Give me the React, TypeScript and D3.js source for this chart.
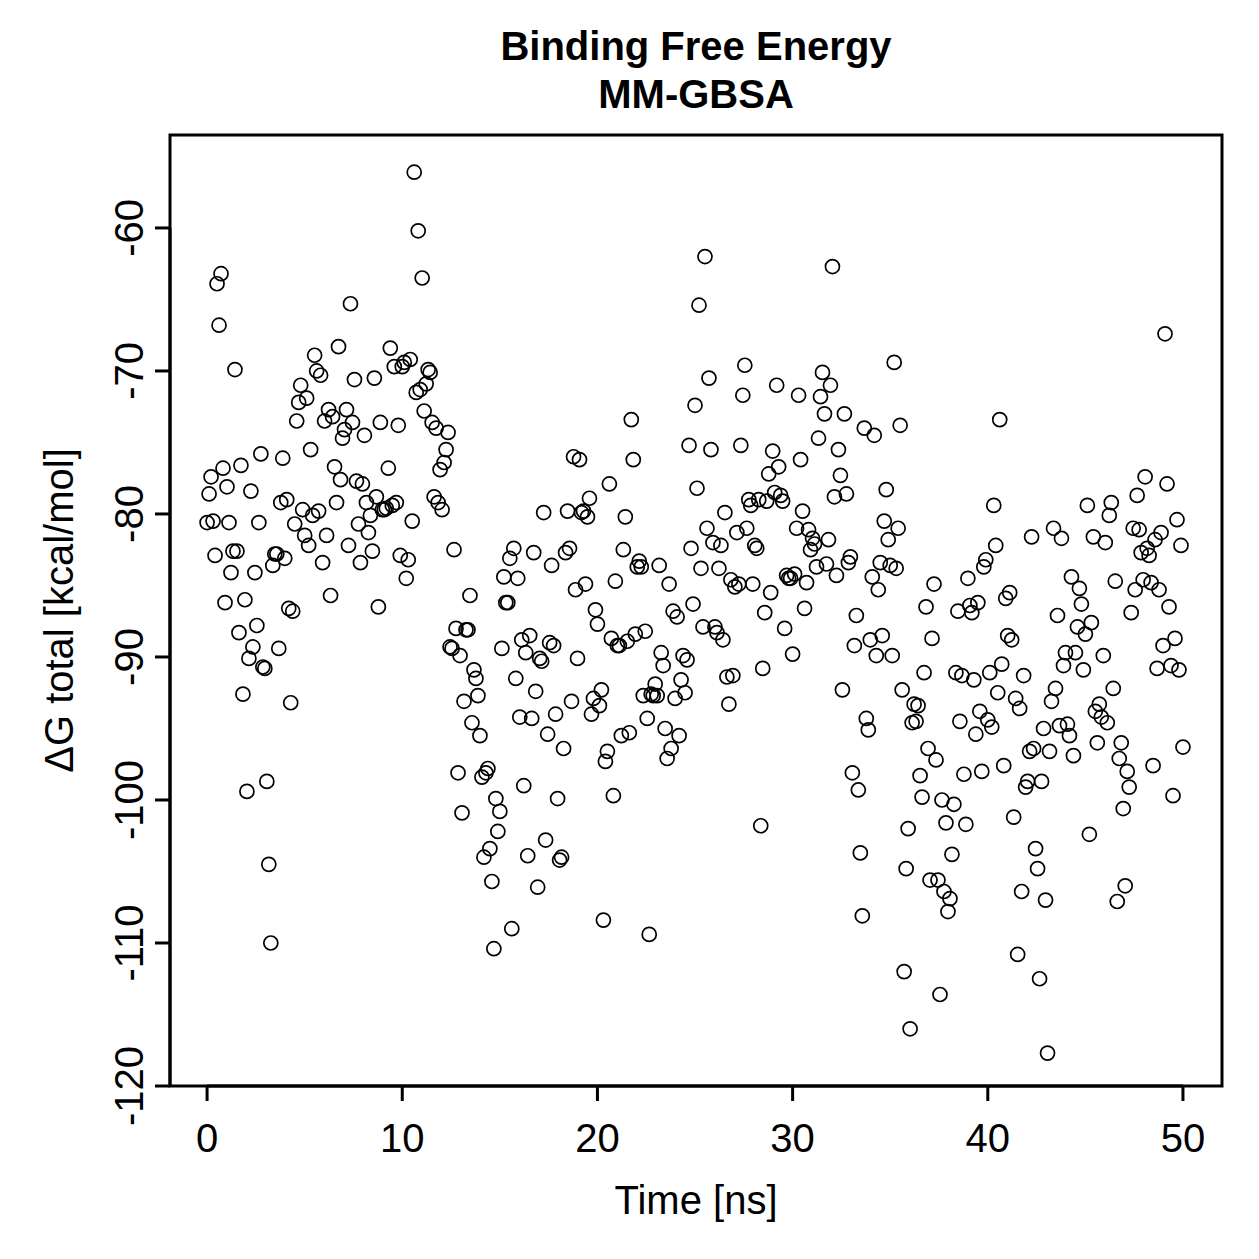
import React from 'react';
import { scaleLinear } from 'd3';

// MM-GBSA total binding free energy per snapshot (kcal/mol), in trajectory order
const dGTotal = [
  -80.6, -78.6, -77.4, -80.5, -82.9, -63.9, -66.8, -63.2, -76.8, -86.2, -78.1, -80.6, -84.1, -82.6, -69.9, -82.6,
  -88.3, -76.6, -92.6, -86.0, -99.4, -90.1, -78.4, -89.3, -84.1, -87.8, -80.6, -75.8, -90.7, -90.8, -98.7, -104.5,
  -110.0, -83.6, -82.8, -82.8, -89.4, -79.2, -76.1, -83.1, -79.0, -86.6, -93.2, -86.8, -80.7, -73.5, -72.2, -71.0,
  -79.7, -81.5, -71.9, -82.2, -75.5, -80.1, -68.9, -70.0, -79.8, -70.3, -83.4, -73.5, -81.5, -72.7, -85.7, -73.2,
  -76.7, -79.2, -68.3, -77.6, -74.7, -74.1, -72.7, -82.2, -65.3, -73.6, -70.6, -77.7, -80.7, -83.4, -77.9, -74.5,
  -79.2, -81.3, -80.1, -82.6, -70.5, -78.8, -86.5, -73.6, -79.7, -79.7, -79.6, -76.8, -68.4, -79.4, -69.7, -79.2,
  -73.8, -82.9, -69.7, -69.4, -84.5, -83.2, -69.2, -80.5, -56.1, -71.5, -60.2, -71.3, -63.5, -72.8, -70.9, -69.9,
  -70.1, -73.6, -78.8, -74.0, -79.2, -76.9, -79.7, -76.4, -75.5, -74.3, -89.3, -89.4, -82.5, -88.0, -98.1, -89.9,
  -100.9, -93.1, -88.1, -88.1, -85.7, -94.6, -90.9, -91.5, -92.7, -95.5, -98.4, -104.0, -98.1, -97.8, -103.4, -105.7,
  -110.4, -99.9, -102.2, -100.8, -89.4, -84.4, -86.2, -86.2, -83.1, -109.0, -82.4, -91.5, -84.5, -94.2, -88.8, -99.0,
  -89.7, -103.9, -88.5, -94.3, -82.7, -92.4, -106.1, -90.1, -90.3, -79.9, -102.8, -95.4, -89.0, -83.6, -89.2, -94.0,
  -99.9, -104.2, -104.0, -96.4, -82.7, -79.8, -82.4, -93.1, -76.0, -85.3, -90.1, -76.2, -79.9, -79.8, -84.9, -80.2,
  -78.9, -94.0, -92.9, -86.7, -87.7, -93.4, -92.3, -108.4, -97.3, -96.6, -77.9, -88.7, -99.7, -84.7, -89.2, -89.2,
  -95.5, -82.5, -80.2, -88.9, -95.3, -73.4, -76.2, -88.4, -83.7, -83.3, -83.7, -92.7, -88.2, -94.3, -109.4, -92.6,
  -92.7, -91.9, -92.7, -83.6, -89.7, -90.6, -95.0, -97.1, -84.9, -96.4, -86.8, -92.9, -87.2, -95.5, -91.6, -89.9,
  -92.5, -90.2, -75.2, -82.4, -86.3, -72.4, -78.2, -65.4, -83.8, -87.9, -62.0, -81.0, -70.5, -75.5, -82.0, -87.9,
  -88.3, -83.8, -82.2, -88.8, -79.9, -91.4, -93.3, -84.6, -91.3, -85.1, -81.3, -84.9, -75.2, -71.7, -69.6, -81.0,
  -79.0, -79.4, -84.9, -82.2, -82.4, -79.0, -101.8, -90.8, -86.9, -79.1, -77.2, -85.5, -75.6, -78.5, -71.0, -76.7,
  -78.7, -79.1, -88.0, -84.3, -84.5, -84.5, -89.8, -84.2, -81.0, -71.7, -76.2, -79.8, -86.6, -84.8, -81.1, -82.5,
  -81.7, -82.1, -83.7, -74.7, -71.8, -70.1, -73.0, -83.5, -81.8, -71.0, -62.7, -78.8, -84.3, -75.5, -77.3, -92.3,
  -73.0, -78.6, -83.4, -83.0, -98.1, -89.2, -87.1, -99.3, -103.7, -108.1, -74.0, -94.3, -95.1, -88.8, -84.4, -74.5,
  -89.9, -85.3, -83.4, -88.5, -80.5, -78.3, -81.8, -83.6, -89.9, -69.4, -83.8, -81.0, -73.8, -92.3, -112.0, -104.8,
  -102.0, -116.0, -94.6, -93.3, -94.5, -93.4, -98.3, -99.8, -91.1, -86.5, -96.4, -105.6, -88.7, -84.9, -97.2, -105.6,
  -113.6, -100.0, -106.4, -101.6, -107.8, -106.9, -103.8, -100.3, -91.1, -86.8, -94.5, -91.3, -98.2, -101.7, -84.5, -86.4,
  -86.9, -91.6, -95.4, -86.2, -93.8, -98.0, -83.7, -83.2, -94.4, -91.1, -94.9, -79.4, -82.2, -92.5, -73.4, -90.5,
  -97.6, -85.9, -88.5, -85.5, -88.8, -101.2, -92.9, -110.8, -93.6, -106.4, -91.3, -99.1, -98.7, -96.6, -81.6, -96.4,
  -103.4, -104.8, -112.5, -98.7, -95.0, -107.0, -117.7, -96.6, -93.1, -81.0, -92.2, -87.1, -94.8, -81.7, -90.6, -89.7,
  -94.7, -95.5, -84.4, -96.9, -89.7, -87.9, -85.2, -86.3, -90.9, -88.4, -79.4, -102.4, -87.6, -81.6, -93.8, -96.0,
  -93.3, -94.2, -89.9, -82.0, -94.6, -80.1, -79.2, -92.2, -84.7, -107.1, -97.1, -96.0, -100.6, -106.0, -98.0, -99.1,
  -86.9, -81.0, -85.3, -78.7, -81.1, -82.7, -84.6, -77.4, -82.4, -82.9, -84.8, -97.6, -81.8, -90.8, -85.3, -81.3,
  -89.2, -67.4, -77.9, -86.5, -90.6, -99.7, -88.7, -80.4, -90.9, -82.2, -96.3,
];

// snapshots are written at a fixed interval over the 50 ns run
const runLengthNs = 50;
const timeNs = dGTotal.map((_, i) => (i * runLengthNs) / (dGTotal.length - 1));

const xTicks = [0, 10, 20, 30, 40, 50];
const yTicks = [-120, -110, -100, -90, -80, -70, -60];

const W = 1259;
const H = 1259;
const left = 170;
const right = 1222;
const top = 135;
const bottom = 1086;
const font = '"Liberation Sans", Arial, Helvetica, sans-serif';

export default function App() {
  const x = scaleLinear().domain([-1.9, 52.0]).range([left, right]);
  const y = scaleLinear().domain([-120, -53.5]).range([bottom, top]);
  const tickLen = 15;

  return (
    <svg width={W} height={H} style={{ position: 'absolute', left: 0, top: 0, background: '#fff' }}
      fontFamily={font}>
      <rect x={0} y={0} width={W} height={H} fill="#fff" />

      {/* title */}
      <text x={(left + right) / 2} y={60} textAnchor="middle" fontSize={40} fontWeight="bold">Binding Free Energy</text>
      <text x={(left + right) / 2} y={108} textAnchor="middle" fontSize={40} fontWeight="bold">MM-GBSA</text>

      {/* points */}
      <g fill="none" stroke="#000" strokeWidth={1.7}>
        {dGTotal.map((v, i) => (
          <circle key={i} cx={x(timeNs[i])} cy={y(v)} r={7} />
        ))}
      </g>

      {/* plot frame */}
      <rect x={left} y={top} width={right - left} height={bottom - top} fill="none" stroke="#000" strokeWidth={3} />

      {/* x axis */}
      <line x1={x(xTicks[0])} x2={x(xTicks[xTicks.length - 1])} y1={bottom} y2={bottom} stroke="#000" strokeWidth={3} />
      {xTicks.map(t => (
        <g key={t}>
          <line x1={x(t)} x2={x(t)} y1={bottom} y2={bottom + tickLen} stroke="#000" strokeWidth={3} />
          <text x={x(t)} y={1152} textAnchor="middle" fontSize={40}>{t}</text>
        </g>
      ))}
      <text x={(left + right) / 2} y={1214} textAnchor="middle" fontSize={40}>Time [ns]</text>

      {/* y axis */}
      <line x1={left} x2={left} y1={y(yTicks[0])} y2={y(yTicks[yTicks.length - 1])} stroke="#000" strokeWidth={3} />
      {yTicks.map(t => (
        <g key={t}>
          <line x1={left} x2={left - tickLen} y1={y(t)} y2={y(t)} stroke="#000" strokeWidth={3} />
          <text transform={`translate(143, ${y(t)}) rotate(-90)`} textAnchor="middle" fontSize={40}>{t}</text>
        </g>
      ))}
      <text transform={`translate(73, ${(top + bottom) / 2}) rotate(-90)`} textAnchor="middle" fontSize={40}>
        ΔG total [kcal/mol]
      </text>
    </svg>
  );
}
